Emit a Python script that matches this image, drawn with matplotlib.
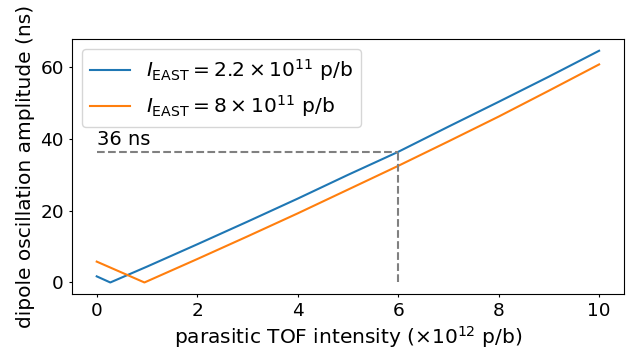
import matplotlib
matplotlib.use("Agg")
import matplotlib.pyplot as plt

x_blue = [0, 0.27, 1, 2, 3, 4, 5, 6, 7, 8, 9, 10]
y_blue = [1.7, 0, 4.4, 10.6, 16.9, 23.3, 29.9, 36.3, 43.3, 50.2, 57.2, 64.4]
x_orange = [0, 0.95, 2, 3, 4, 5, 6, 7, 8, 9, 10]
y_orange = [5.8, 0, 6.5, 12.8, 19.2, 25.8, 32.4, 39.2, 46.1, 53.3, 60.6]
label_blue = r"$I_{\mathrm{EAST}} = 2.2\times10^{11}$ p/b"
label_orange = r"$I_{\mathrm{EAST}} = 8\times10^{11}$ p/b"
mark_x = 6
mark_y = 36.3
mark_text = "36 ns"

plt.rcParams['font.size'] = 14
fig = plt.figure(figsize=(6.28, 3.56), dpi=100)
ax = fig.add_axes([0.114, 0.174, 0.880, 0.716])
ax.plot(x_blue, y_blue, color='#1f77b4', label=label_blue)
ax.plot(x_orange, y_orange, color='#ff7f0e', label=label_orange)
ax.plot([0, mark_x], [mark_y, mark_y], '--', color='gray')
ax.plot([mark_x, mark_x], [0, mark_y], '--', color='gray')
ax.text(0, mark_y + 0.8, mark_text, fontsize=14, ha='left', va='bottom')
ax.set_xlabel(r"parasitic TOF intensity ($\times10^{12}$ p/b)", fontsize=14.5, labelpad=3)
ax.set_ylabel("dipole oscillation amplitude (ns)", fontsize=14.5, labelpad=4)
ax.set_xticks([0, 2, 4, 6, 8, 10])
ax.set_yticks([0, 20, 40, 60])
ax.tick_params(labelsize=13.3, length=2.5, pad=3)
ax.legend(loc='upper left', fontsize=14.5)
fig.savefig("out.png", dpi=100)
